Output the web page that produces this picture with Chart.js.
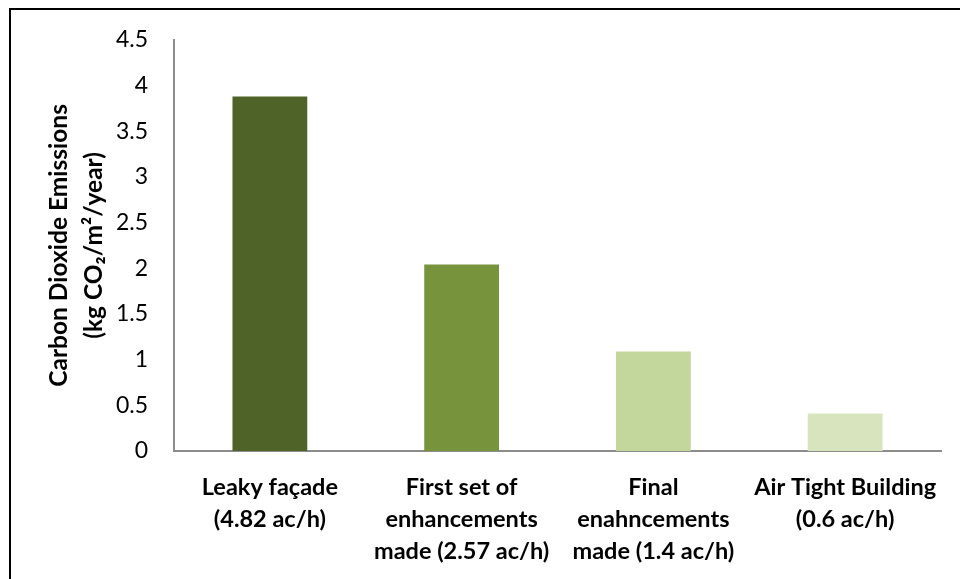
<!DOCTYPE html>
<html>
<head>
<meta charset="utf-8">
<script src="https://cdn.jsdelivr.net/npm/chart.js@4/dist/chart.umd.min.js"></script>
<style>
  html, body { margin: 0; padding: 0; background: #fff; }
  #wrap { width: 960px; height: 579px; position: relative; }
</style>
</head>
<body>
<div id="wrap"><canvas id="c" width="960" height="579"></canvas></div>
<script>
// Scenario labels (multi-line) and annual emissions per scenario
const categories = [
  ['Leaky façade', '(4.82 ac/h)'],
  ['First set of', 'enhancements', 'made (2.57 ac/h)'],
  ['Final', 'enahncements', 'made (1.4 ac/h)'],
  ['Air Tight Building', '(0.6 ac/h)']
];
const emissions = [3.88, 2.04, 1.09, 0.41];
const barColors = ['#4F6228', '#77933C', '#C3D69B', '#D7E4BD'];
const yTitle = ['Carbon Dioxide Emissions', '(kg CO₂/m²/year)'];

// White background plus the outer frame along the top and left edges
const framePlugin = {
  id: 'frame',
  beforeDraw(chart) {
    const ctx = chart.ctx;
    ctx.save();
    ctx.fillStyle = '#fff';
    ctx.fillRect(0, 0, chart.width, chart.height);
    ctx.strokeStyle = '#000';
    ctx.lineWidth = 2;
    ctx.beginPath();
    ctx.moveTo(10, chart.height + 2);
    ctx.lineTo(10, 9);
    ctx.lineTo(chart.width + 2, 9);
    ctx.stroke();
    ctx.restore();
  }
};

new Chart(document.getElementById('c'), {
  type: 'bar',
  data: {
    labels: categories,
    datasets: [{
      data: emissions,
      backgroundColor: barColors,
      borderWidth: 0,
      barPercentage: 0.39,
      categoryPercentage: 1
    }]
  },
  options: {
    responsive: false,
    animation: false,
    layout: { padding: { top: 38, right: 19, bottom: 0, left: 0 } },
    plugins: { legend: { display: false }, tooltip: { enabled: false } },
    scales: {
      x: {
        grid: { display: false, drawTicks: false },
        border: { display: true, color: '#8c8c8c', width: 2 },
        ticks: {
          color: '#000',
          padding: 21,
          maxRotation: 0,
          autoSkip: false,
          font: { family: 'Lato', size: 23.5, weight: 'bold', lineHeight: 1.35 }
        },
        afterFit(scale) { scale.height = 128; }
      },
      y: {
        min: 0,
        max: 4.5,
        grid: { display: false, drawTicks: false },
        border: { display: true, color: '#8c8c8c', width: 2 },
        ticks: {
          stepSize: 0.5,
          color: '#000',
          padding: 26,
          font: { family: 'Lato', size: 23 },
          callback: (v) => String(Number(v))
        },
        title: {
          display: true,
          text: yTitle,
          color: '#000',
          padding: { top: 42, bottom: 0 },
          font: { family: 'Lato', size: 24.5, weight: 'bold', lineHeight: 1.42 }
        },
        afterFit(scale) { scale.width = 174; }
      }
    }
  },
  plugins: [framePlugin]
});
</script>
</body>
</html>
